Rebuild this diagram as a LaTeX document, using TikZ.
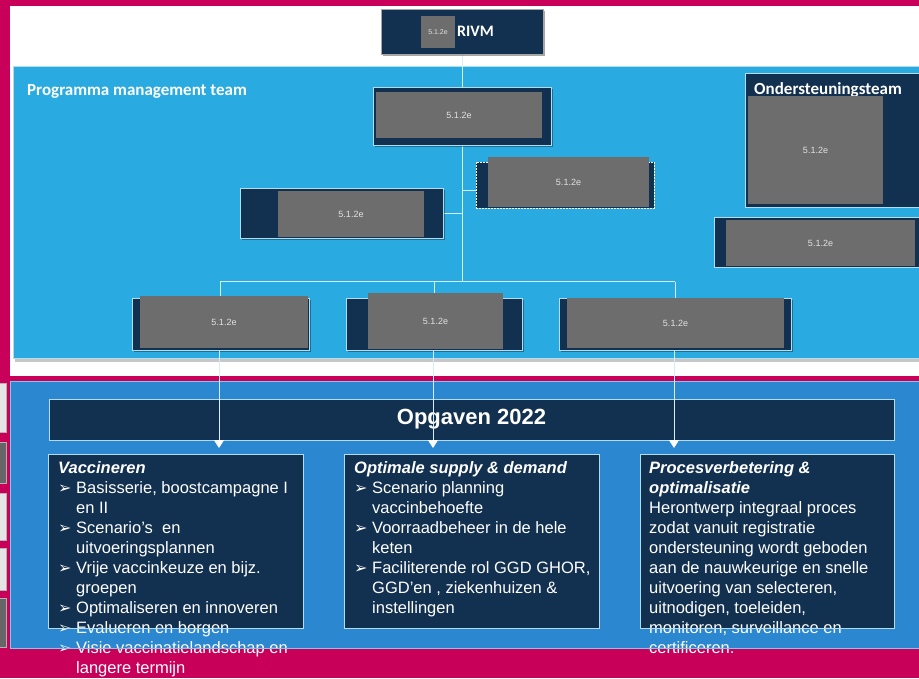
\documentclass[tikz,border=0pt]{standalone}
\usepackage{fontspec}
\setmainfont{Liberation Sans}
\newfontfamily\carl{Carlito}
\newfontfamily\dejavu{DejaVu Sans}
\usetikzlibrary{shadows,arrows.meta}
\definecolor{mag}{HTML}{C8005A}
\definecolor{lblue}{HTML}{29ABE2}
\definecolor{mblue}{HTML}{2B87CF}
\definecolor{navy}{HTML}{12304F}
\definecolor{gry}{HTML}{6D6D6D}
\definecolor{edge}{HTML}{B4DCEF}
\definecolor{linec}{HTML}{D6EEF8}
\definecolor{lbl}{HTML}{E2E2E2}
\pgfdeclarelayer{bg}\pgfdeclarelayer{lines}\pgfdeclarelayer{txt}\pgfdeclarelayer{front}
\pgfsetlayers{bg,lines,main,txt,front}
\newcommand\bul{\makebox[18pt][l]{\raisebox{0.5pt}{\dejavu\fontsize{16}{12}\selectfont ➢}}}
\newcommand\ind{\hspace*{18pt}}
\newcommand\fst{\rule{0pt}{15pt}}
\tikzset{
  navybox/.style={fill=navy, draw=edge, line width=1pt, inner sep=0pt},
  greybox/.style={fill=gry, inner sep=0pt, text=lbl, font=\fontsize{9}{10}\selectfont},
  conn/.style={draw=linec, line width=0.8pt},
  shad/.style={drop shadow={shadow xshift=2pt, shadow yshift=-2pt, opacity=.35, fill=black}},
  bodytext/.style={anchor=north west, inner sep=0pt, align=left, text=white, font=\fontsize{16.5}{20}\selectfont},
  titletext/.style={anchor=west, inner sep=0pt, text=white, font=\carl\bfseries\fontsize{17}{20}\selectfont},
  strip/.style={fill=#1, draw=black!30, line width=.5pt},
}
\begin{document}
\begin{tikzpicture}[x=1pt,y=-1pt]
\useasboundingbox (0,0) rectangle (919,678);
\begin{pgfonlayer}{bg}
  \fill[mag] (0,0) rectangle (919,678);
  \fill[white] (10,6) rectangle (925,375.5);
  \fill[black!22] (15,358) rectangle (925,361.5);
  \filldraw[fill=lblue, draw=edge, line width=.8pt] (13,66) rectangle (925,358);
  \filldraw[fill=mblue, draw=edge!70!mblue, line width=1pt] (10,381) rectangle (925,648);
  \filldraw[strip=black!10] (-2,383) rectangle (6,432);
  \filldraw[strip=black!60] (-2,442) rectangle (6,483);
  \filldraw[strip=black!10] (-2,493) rectangle (6,540);
  \filldraw[strip=black!10] (-2,548) rectangle (6,590);
  \filldraw[strip=black!60] (-2,598) rectangle (6,647);
\end{pgfonlayer}

% RIVM
\node[navybox, draw=black!35, minimum width=162pt, minimum height=45pt, shad] (rivm) at (462,31.5) {};
\node[greybox, minimum width=34pt, minimum height=32pt, font=\fontsize{7}{8}\selectfont] (rivmg) at (438,32) {5.1.2e};
\node[titletext, font=\carl\bfseries\fontsize{16}{18}\selectfont] (rivmt) at (457,31) {RIVM};

% Programma management team
\node[titletext] (pmt) at (27,91) {Programma management team};
\node[navybox, minimum width=178pt, minimum height=58pt, shad] (top) at (462,116) {};
\node[greybox, minimum width=166pt, minimum height=46pt] (topg) at (459,115) {5.1.2e};

\node[navybox, minimum width=203pt, minimum height=50pt, shad] (ml) at (341.5,213) {};
\node[greybox, minimum width=146pt, minimum height=46pt] (mlg) at (351,214) {5.1.2e};

\node[navybox, draw=white, dash pattern=on 2pt off 1pt, line width=.8pt, minimum width=178pt, minimum height=46pt] (mr) at (565,185) {};
\node[greybox, minimum width=161pt, minimum height=50pt] (mrg) at (568.5,182) {5.1.2e};

% Ondersteuningsteam
\node[navybox, minimum width=180pt, minimum height=134pt] (ost) at (835,140) {};
\node[titletext] (ostt) at (754,90) {Ondersteuningsteam};
\node[greybox, minimum width=135pt, minimum height=108pt] (ostg) at (815.5,150) {5.1.2e};
\node[navybox, minimum width=211pt, minimum height=50pt] (osb) at (819.5,242) {};
\node[greybox, minimum width=189pt, minimum height=46pt] (osbg) at (820.5,243) {5.1.2e};

% bottom row
\node[navybox, minimum width=177pt, minimum height=52pt, shad] (A) at (220.5,324) {};
\node[greybox, minimum width=168pt, minimum height=52pt] (Ag) at (224,322) {5.1.2e};
\node[navybox, minimum width=176pt, minimum height=52pt, shad] (B) at (434,324) {};
\node[greybox, minimum width=135pt, minimum height=56pt] (Bg) at (435.5,321) {5.1.2e};
\node[navybox, minimum width=232pt, minimum height=52pt, shad] (C) at (675,324) {};
\node[greybox, minimum width=217pt, minimum height=50pt] (Cg) at (675.5,323) {5.1.2e};

\coordinate (hbs) at (462,281.5);
\coordinate (hbl) at (220,281.5);
\coordinate (hbm) at (434,281.5);
\coordinate (hbr) at (675,281.5);
\coordinate (spmr) at (462,190);
\coordinate (mrj) at (476,190);

\begin{pgfonlayer}{lines}
  \draw[conn] (rivm.south) -- (hbs);
  \draw[conn] (hbl) -- (hbr);
  \draw[conn] (hbl) -- (A.north -| hbl);
  \draw[conn] (hbm) -- (B.north -| hbm);
  \draw[conn] (hbr) -- (C.north -| hbr);
  \draw[conn] (ml.east) -- (ml.east -| hbs);
  \draw[conn] (spmr) -- (mrj);
\end{pgfonlayer}

% Opgaven
\node[navybox, minimum width=845pt, minimum height=41pt, text=white, font=\bfseries\fontsize{22}{24}\selectfont] (opg) at (471.5,419.5) {Opgaven 2022};

\node[navybox, minimum width=255pt, minimum height=174pt] (v1) at (175.5,541) {};
\node[navybox, minimum width=255pt, minimum height=174pt] (v2) at (471.5,541) {};
\node[navybox, minimum width=254pt, minimum height=174pt] (v3) at (767,541) {};

\begin{pgfonlayer}{txt}
\node[bodytext] (t1) at (58,458.5) {\fst{\bfseries\itshape Vaccineren}\\
\bul Basisserie, boostcampagne I\\
\ind en II\\
\bul Scenario’s\hspace{0.28em} en\\
\ind uitvoeringsplannen\\
\bul Vrije vaccinkeuze en bijz.\\
\ind groepen\\
\bul Optimaliseren en innoveren\\
\bul Evalueren en borgen\\
\bul Visie vaccinatielandschap en\\
\ind langere termijn};
\node[bodytext] (t2) at (354,458.5) {\fst{\bfseries\itshape Optimale supply \& demand}\\
\bul Scenario planning\\
\ind vaccinbehoefte\\
\bul Voorraadbeheer in de hele\\
\ind keten\\
\bul Faciliterende rol GGD GHOR,\\
\ind GGD’en , ziekenhuizen \&\\
\ind instellingen};
\node[bodytext] (t3) at (649,458.5) {\fst{\bfseries\itshape Procesverbetering \&}\\
{\bfseries\itshape optimalisatie}\\
Herontwerp integraal proces\\
zodat vanuit registratie\\
ondersteuning wordt geboden\\
aan de nauwkeurige en snelle\\
uitvoering van selecteren,\\
uitnodigen, toeleiden,\\
monitoren, surveillance en\\
certificeren.};
\end{pgfonlayer}

\coordinate (aA) at (219,448);
\coordinate (aB) at (433,448);
\coordinate (aC) at (674,448);

\begin{pgfonlayer}{front}
  \draw[edge, line width=1pt] (v1.south west) -- (v1.south east);
  \draw[edge, line width=1pt] (v2.south west) -- (v2.south east);
  \draw[edge, line width=1pt] (v3.south west) -- (v3.south east);
  \draw[edge!70!mblue, line width=1pt] (10,648) -- (925,648);
  \draw[conn, -{Triangle[width=10pt,length=8pt,fill=white,color=white]}] (A.south -| aA) -- (aA);
  \draw[conn, -{Triangle[width=10pt,length=8pt,fill=white,color=white]}] (B.south -| aB) -- (aB);
  \draw[conn, -{Triangle[width=10pt,length=8pt,fill=white,color=white]}] (C.south -| aC) -- (aC);
\end{pgfonlayer}
\end{tikzpicture}
\end{document}
